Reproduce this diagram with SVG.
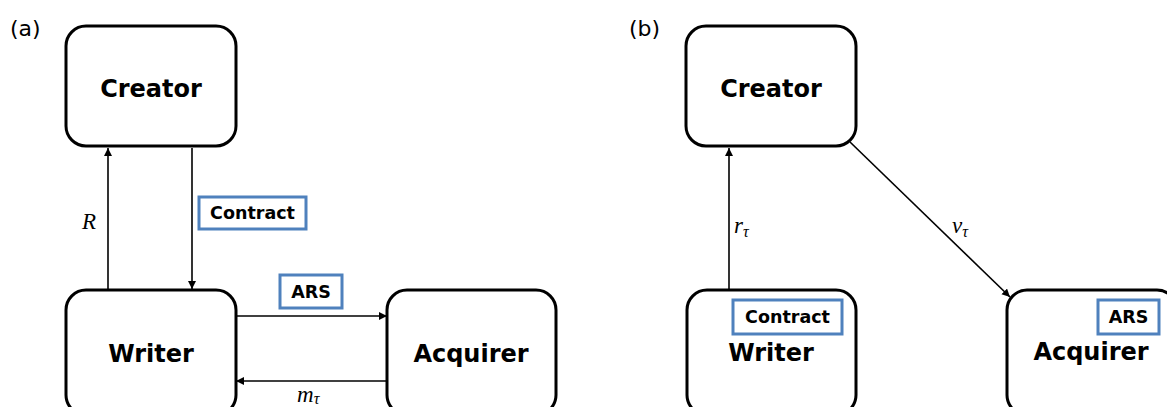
<svg xmlns="http://www.w3.org/2000/svg" width="1167" height="407" viewBox="0 0 1167 407">
<style>
.box{fill:#fff;stroke:#000;stroke-width:3}
.tag{fill:#fff;stroke:#4F81BD;stroke-width:3}
.node{font-family:"DejaVu Sans",Verdana,sans-serif;font-weight:bold;font-size:24px;text-anchor:middle;fill:#000}
.tagt{font-family:"DejaVu Sans",Verdana,sans-serif;font-weight:bold;font-size:17.5px;text-anchor:middle;fill:#000}
.panel{font-family:"DejaVu Sans",sans-serif;font-size:22px;fill:#000}
.math{font-family:"Liberation Serif","DejaVu Serif",serif;font-style:italic;font-size:23px;fill:#000}
.sub{font-size:16px}
.conn{stroke:#000;stroke-width:1.6;fill:none;marker-end:url(#ah)}
</style>
<defs>
<marker id="ah" markerUnits="userSpaceOnUse" markerWidth="10" markerHeight="10" refX="8" refY="4" orient="auto">
<path d="M0,0 L8,4 L0,8 Z" fill="#000"/>
</marker>
</defs>
<text class="panel" x="10" y="36">(a)</text>
<text class="panel" x="629" y="36">(b)</text>

<g id="connectors">
<line class="conn" x1="108" y1="289" x2="108" y2="148"/>
<line class="conn" x1="192" y1="148" x2="192" y2="289"/>
<line class="conn" x1="236" y1="316" x2="387" y2="316"/>
<line class="conn" x1="386" y1="381" x2="236" y2="381"/>
<line class="conn" x1="729" y1="289" x2="729" y2="148"/>
<line class="conn" x1="850" y1="142" x2="1010" y2="297"/>
<text class="math" x="82" y="229">R</text>
<g id="contract-a">
<rect class="tag" x="199" y="197" width="107" height="32"/>
<text class="tagt" x="252.5" y="219">Contract</text>
</g>
<g id="ars-a">
<rect class="tag" x="280" y="275" width="62" height="33"/>
<text class="tagt" x="311" y="298">ARS</text>
</g>
<text class="math" x="297" y="402">m<tspan class="sub" dy="2">τ</tspan></text>
<text class="math" x="734" y="233">r<tspan class="sub" dy="4">τ</tspan></text>
<text class="math" x="952" y="233">v<tspan class="sub" dy="4">τ</tspan></text>
</g>

<g id="creator-a">
<rect class="box" x="66" y="26" width="170" height="120" rx="20"/>
<text class="node" x="151" y="97">Creator</text>
</g>
<g id="writer-a">
<rect class="box" x="66" y="290" width="170" height="125" rx="20"/>
<text class="node" x="151" y="362">Writer</text>
</g>
<g id="acquirer-a">
<rect class="box" x="387" y="290" width="169" height="125" rx="20"/>
<text class="node" x="471" y="362">Acquirer</text>
</g>

<g id="creator-b">
<rect class="box" x="686" y="26" width="170" height="120" rx="20"/>
<text class="node" x="771" y="97">Creator</text>
</g>
<g id="writer-b">
<rect class="box" x="687" y="290" width="169" height="125" rx="20"/>
<rect class="tag" x="733" y="300" width="109" height="34"/>
<text class="tagt" x="787.5" y="323">Contract</text>
<text class="node" x="771" y="361">Writer</text>
</g>
<g id="acquirer-b">
<rect class="box" x="1007" y="290" width="170" height="125" rx="20"/>
<rect class="tag" x="1098" y="300" width="61" height="34"/>
<text class="tagt" x="1128.5" y="323">ARS</text>
<text class="node" x="1091" y="360">Acquirer</text>
</g>
</svg>
